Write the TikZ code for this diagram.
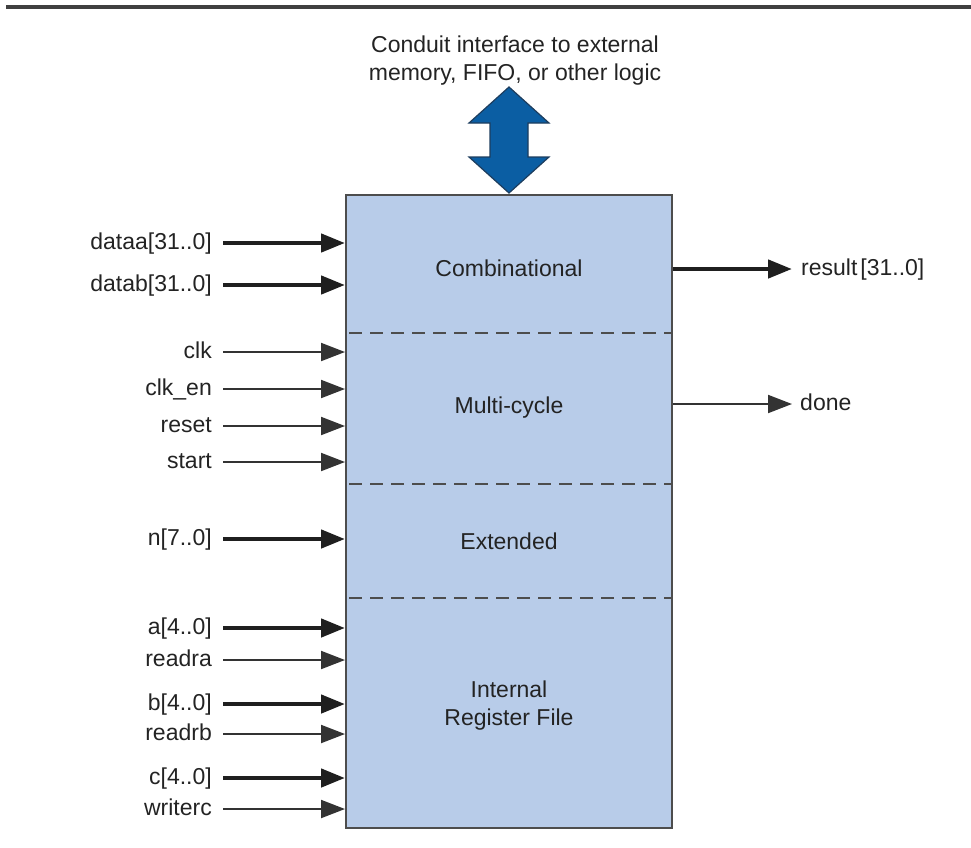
\documentclass[tikz,border=0pt]{standalone}
\usepackage{fontspec}
\setmainfont{Liberation Sans}
\usetikzlibrary{arrows.meta}
\definecolor{boxfill}{HTML}{B8CCE9}
\definecolor{boxline}{HTML}{4D4D4D}
\definecolor{arrowblue}{HTML}{0B5EA3}
\definecolor{arrowedge}{HTML}{1D3D5E}
\definecolor{txt}{HTML}{232323}
\tikzset{
  lbl/.style={font=\fontsize{23}{28}\selectfont, text=txt, inner sep=0pt, text height=0.8em, text depth=0.2em, yshift=-3pt},
  lblL/.style={lbl, anchor=east},
  lblR/.style={lbl, anchor=west},
  bus/.style={line width=4.5pt, color=black!88, -{Triangle[length=24pt,width=18pt]}},
  sig/.style={line width=2pt, color=black!80, -{Triangle[length=24pt,width=18pt]}},
  divider/.style={line width=2pt, color=boxline, dash pattern=on 13pt off 8pt, dash phase=-4pt},
  blk/.style={draw=boxline, line width=2pt, fill=boxfill, minimum width=326pt, minimum height=633pt, inner sep=0pt},
  sect/.style={font=\fontsize{23}{28}\selectfont, text=txt, align=center, inner sep=0pt}
}
\begin{document}
\begin{tikzpicture}[x=1pt, y=-1pt]
\useasboundingbox (0,0) rectangle (971,847);
% top rule
\draw[line width=3.5pt, color=black!75] (6,7) -- (971,7);
% conduit text
\node[sect] (conduit) at (515,61) {Conduit interface to external\\memory, FIFO, or other logic};
% main block
\node[blk] (box) at (509,511.5) {};
% double arrow
\draw[fill=arrowblue, draw=arrowedge, line width=1.2pt, line join=miter]
  (509,87) -- (549,123) -- (528,123) -- (528,157) -- (549,157) -- (509,193)
  -- (469,157) -- (490,157) -- (490,123) -- (469,123) -- cycle;
% dividers
\coordinate (d1) at (0,333);
\coordinate (d2) at (0,484);
\coordinate (d3) at (0,598);
\foreach \d in {d1,d2,d3}
  \draw[divider] (box.west |- \d) -- (box.east |- \d);
% section labels
\node[sect] (comb) at (509,268) {Combinational};
\node[sect] (multi) at (509,408) {Multi-cycle};
\node[sect] (ext) at (509,541) {Extended};
\node[sect] (irf) at (509,706) {Internal\\Register File};
% left inputs
\node[lblL] (dataa) at (212,243) {dataa[31..0]};
\node[lblL] (datab) at (212,285) {datab[31..0]};
\node[lblL] (clk) at (212,352) {clk};
\node[lblL] (clken) at (212,389) {clk\_en};
\node[lblL] (reset) at (212,426) {reset};
\node[lblL] (start) at (212,462) {start};
\node[lblL] (n) at (212,539) {n[7..0]};
\node[lblL] (a) at (212,628) {a[4..0]};
\node[lblL] (readra) at (212,660) {readra};
\node[lblL] (b) at (212,704) {b[4..0]};
\node[lblL] (readrb) at (212,734) {readrb};
\node[lblL] (c) at (212,778) {c[4..0]};
\node[lblL] (writerc) at (212,809) {writerc};
\foreach \s in {dataa,datab,n,a,b,c}
  \draw[bus] ([xshift=11pt,yshift=3pt]\s.east) -- ([yshift=3pt]\s.east -| box.west);
\foreach \s in {clk,clken,reset,start,readra,readrb,writerc}
  \draw[sig] ([xshift=11pt,yshift=3pt]\s.east) -- ([yshift=3pt]\s.east -| box.west);
% right outputs
\node[lblR] (result) at (801,269) {result\kern3pt[31..0]};
\node[lblR] (done) at (800,404) {done};
\draw[bus] ([yshift=3pt]result.west -| box.east) -- ([xshift=-9pt,yshift=3pt]result.west);
\draw[sig] ([yshift=3pt]done.west -| box.east) -- ([xshift=-8pt,yshift=3pt]done.west);
\end{tikzpicture}
\end{document}
